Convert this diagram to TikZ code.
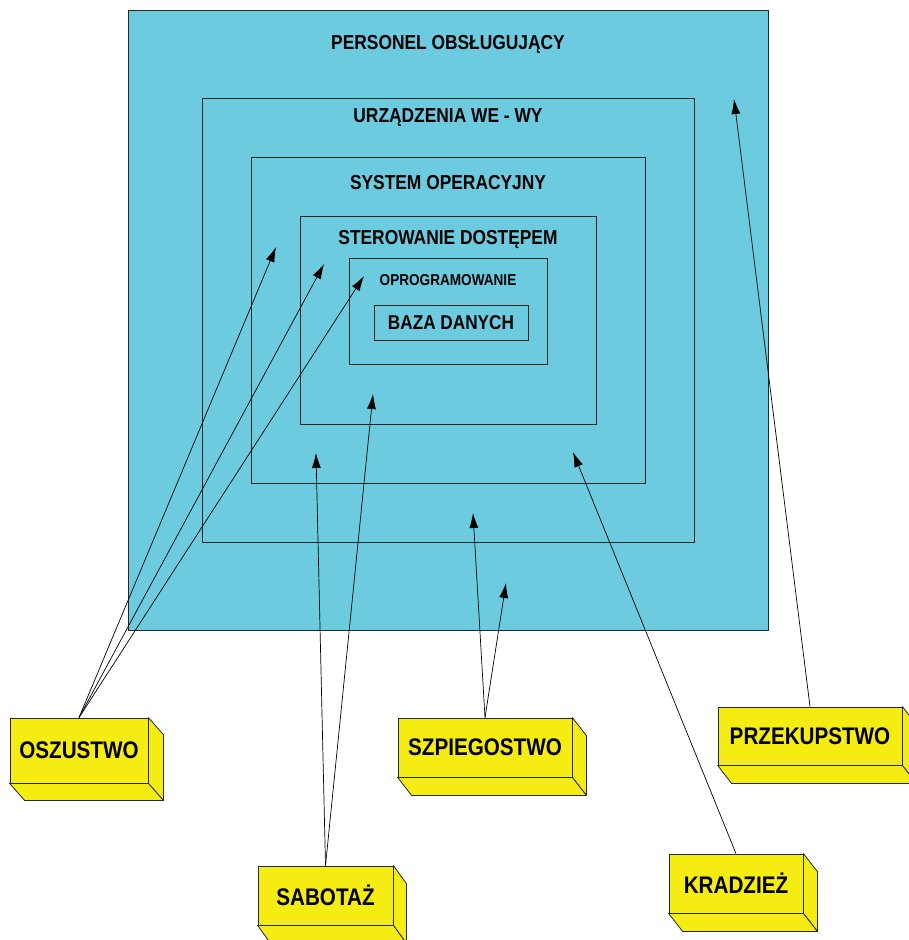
\documentclass[tikz,border=0pt]{standalone}
\usepackage{fontspec}
\setmainfont[FakeStretch=0.86]{Liberation Sans}
\usetikzlibrary{arrows.meta}
\definecolor{layercyan}{RGB}{108,203,222}
\definecolor{boxyellow}{RGB}{245,236,18}
\tikzset{
  layer/.style={draw=black!85, line width=0.8pt, rectangle, inner sep=0pt},
  layerlabel/.style={font=\bfseries\fontsize{20.2}{20.2}\selectfont, inner sep=0pt, anchor=center},
  threatbox/.style={draw=black!85, line width=0.8pt, fill=boxyellow, rectangle, inner sep=0pt,
     font=\bfseries\fontsize{24}{24}\selectfont},
  face/.style={draw=black!85, line width=0.8pt, fill=boxyellow, line join=round},
  attack/.style={draw=black, line width=0.7pt, -{Latex[length=15pt,width=9pt]}},
}
\newcommand{\sidefaces}[3]{%
  \path[face] (#1.north east) -- ++(#2,#3) -- ([shift={(#2,#3)}]#1.south east) -- (#1.south east) -- cycle;
  \path[face] (#1.south west) -- ++(#2,#3) -- ([shift={(#2,#3)}]#1.south east) -- (#1.south east) -- cycle;
}
\begin{document}
\begin{tikzpicture}[x=1pt,y=-1pt]
\useasboundingbox (0,0) rectangle (909,940);
\fill[white] (0,0) rectangle (909,940);
% nested layers
\node[layer, fill=layercyan, minimum width=640pt, minimum height=620pt] (L1) at (448,320) {};
\node[layer, minimum width=492pt, minimum height=444pt] (L2) at (448,320) {};
\node[layer, minimum width=394pt, minimum height=326pt] (L3) at (448,320) {};
\node[layer, minimum width=296pt, minimum height=208pt] (L4) at (448,320) {};
\node[layer, minimum width=198pt, minimum height=106pt] (L5) at (448,311) {};
\node[layer, minimum width=154pt, minimum height=35pt, font=\bfseries\fontsize{20}{20}\selectfont] (L6) at (451,322.5) {BAZA DANYCH};
\node[layerlabel] (T1) at (448,44) {PERSONEL OBSŁUGUJĄCY};
\node[layerlabel] (T2) at (448,118) {URZĄDZENIA WE - WY};
\node[layerlabel] (T3) at (448,183) {SYSTEM OPERACYJNY};
\node[layerlabel] (T4) at (448,240) {STEROWANIE DOSTĘPEM};
\node[layerlabel, font=\bfseries\fontsize{15.8}{15.8}\selectfont] (T5) at (448,280) {OPROGRAMOWANIE};
% arrow targets
\coordinate (a1) at (276,247);
\coordinate (a2) at (324,264);
\coordinate (a3) at (364,276);
\coordinate (b1) at (373,394);
\coordinate (b2) at (316,453);
\coordinate (c1) at (473,513);
\coordinate (c2) at (506,583);
\coordinate (d1) at (734,99);
\coordinate (e1) at (573,452);
% threat boxes
\node[threatbox, minimum width=138pt, minimum height=65pt] (osz) at (79,750.5) {OSZUSTWO};
\sidefaces{osz}{15}{17}
\node[threatbox, minimum width=135pt, minimum height=59pt] (sab) at (325.5,895.5) {SABOTAŻ};
\sidefaces{sab}{13}{18}
\node[threatbox, minimum width=174pt, minimum height=59pt] (szp) at (485,747.5) {SZPIEGOSTWO};
\sidefaces{szp}{14}{18}
\node[threatbox, minimum width=184pt, minimum height=58pt] (prz) at (810,736) {PRZEKUPSTWO};
\sidefaces{prz}{14}{18}
\node[threatbox, minimum width=134pt, minimum height=59pt] (kra) at (736,883.5) {KRADZIEŻ};
\sidefaces{kra}{14}{18}
% connectors
\draw[attack] (osz.north) -- (a1);
\draw[attack] (osz.north) -- (a2);
\draw[attack] (osz.north) -- (a3);
\draw[attack] (sab.north) -- (b1);
\draw[attack] (sab.north) -- (b2);
\draw[attack] (szp.north) -- (c1);
\draw[attack] (szp.north) -- (c2);
\draw[attack] (prz.north) -- (d1);
\draw[attack] (kra.north) -- (e1);
\end{tikzpicture}
\end{document}
